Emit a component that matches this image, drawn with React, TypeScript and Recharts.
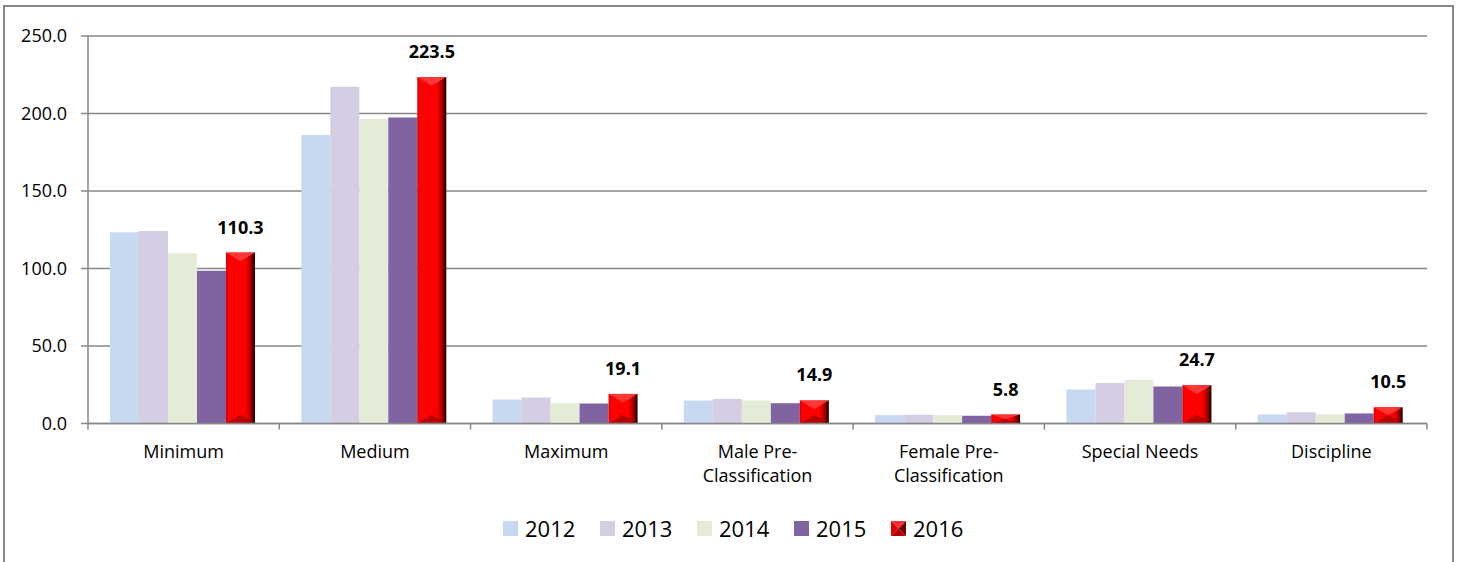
import React from 'react';
import { BarChart, Bar, XAxis, YAxis, CartesianGrid, Legend, LabelList } from 'recharts';

const categories = [
  'Minimum',
  'Medium',
  'Maximum',
  'Male Pre-Classification',
  'Female Pre-Classification',
  'Special Needs',
  'Discipline',
];
const years = ['2012', '2013', '2014', '2015', '2016'];
const v2012 = [123.4, 186.1, 15.5, 14.8, 5.4, 21.9, 5.8];
const v2013 = [124.2, 217.3, 16.8, 15.9, 5.6, 26.1, 7.3];
const v2014 = [109.8, 196.5, 13.1, 14.8, 5.4, 28.2, 6.0];
const v2015 = [98.6, 197.5, 12.9, 13.1, 5.0, 23.8, 6.5];
const v2016 = [110.3, 223.5, 19.1, 14.9, 5.8, 24.7, 10.5];
const yTicks = [0, 50, 100, 150, 200, 250];

const seriesValues = [v2012, v2013, v2014, v2015, v2016];
const colors = ['#c6d9f1', '#d5cde3', '#e4ecd7', '#8064a2', '#ff0000'];

const data = categories.map((c, i) => {
  const row: any = { category: c };
  years.forEach((y, k) => {
    row[y] = seriesValues[k][i];
  });
  return row;
});

const FONT = '"Open Sans", sans-serif';
const AXIS = '#878787';

const RedBar = (props: any) => {
  const { x, y, width: w, height: h, index } = props;
  if (!h || h <= 0) return null;
  const id = `redgrad${index}`;
  const d = Math.min(w * 0.3, h / 2);
  return (
    <g>
      <defs>
        <linearGradient id={id} x1="0" y1="0" x2="1" y2="0">
          <stop offset="0" stopColor="#d00000" />
          <stop offset="0.08" stopColor="#ff0000" />
          <stop offset="0.68" stopColor="#ff0000" />
          <stop offset="0.86" stopColor="#a00000" />
          <stop offset="1" stopColor="#1a0000" />
        </linearGradient>
      </defs>
      <rect x={x} y={y} width={w} height={h} fill={`url(#${id})`} />
      <polygon
        points={`${x},${y} ${x + w},${y} ${x + w / 2},${y + d}`}
        fill="#ff4040"
        opacity={0.85}
      />
      <polygon
        points={`${x},${y + h} ${x + w},${y + h} ${x + w / 2},${y + h - d}`}
        fill="#a00000"
        opacity={0.75}
      />
    </g>
  );
};

const CategoryTick = (props: any) => {
  const { x, y, payload, index, visibleTicksCount } = props;
  const half = payload && payload.offset ? payload.offset : 1339 / 14;
  const label: string = String(payload.value);
  const lines = label.replace(/(Pre-)\s*/, '$1\n').split('\n');
  return (
    <g>
      <line x1={x - half} y1={y} x2={x - half} y2={y + 6} stroke={AXIS} strokeWidth={1.5} />
      {index === (visibleTicksCount ?? categories.length) - 1 && (
        <line x1={x + half} y1={y} x2={x + half} y2={y + 6} stroke={AXIS} strokeWidth={1.5} />
      )}
      {lines.map((ln, i) => (
        <text
          key={i}
          x={x}
          y={y + 34 + i * 24}
          textAnchor="middle"
          fontFamily={FONT}
          fontSize={18}
          fill="#000"
        >
          {ln}
        </text>
      ))}
    </g>
  );
};

const LegendIcon = ({ k }: { k: number }) => {
  if (k === 4) {
    return (
      <svg width={15} height={15} style={{ display: 'block' }}>
        <polygon points="0,0 15,0 7.5,7.5" fill="#ff3030" />
        <polygon points="0,0 0,15 7.5,7.5" fill="#e00000" />
        <polygon points="15,0 15,15 7.5,7.5" fill="#700000" />
        <polygon points="0,15 15,15 7.5,7.5" fill="#b00000" />
      </svg>
    );
  }
  return <div style={{ width: 15, height: 15, background: colors[k] }} />;
};

const LegendContent = () => (
  <div style={{ display: 'flex', alignItems: 'center', fontFamily: FONT, fontSize: 22, lineHeight: '22px', color: '#000' }}>
    {years.map((y, k) => (
      <div key={y} style={{ display: 'flex', alignItems: 'center', width: 97 }}>
        <LegendIcon k={k} />
        <span style={{ marginLeft: 7 }}>{y}</span>
      </div>
    ))}
  </div>
);

export default function App() {
  return (
    <div style={{ position: 'absolute', left: 0, top: 0, width: 1463, height: 562, overflow: 'hidden', background: '#fff' }}>
      <div
        style={{
          position: 'absolute',
          left: 3,
          top: 5,
          width: 1451,
          height: 570,
          border: `2px solid ${AXIS}`,
          boxSizing: 'border-box',
        }}
      />
      <div style={{ position: 'absolute', left: 0, top: 0 }}>
        <BarChart
          width={1463}
          height={562}
          data={data}
          margin={{ top: 36, right: 36, left: 0, bottom: 0 }}
          barCategoryGap="11.5%"
          barGap={0}
        >
          <CartesianGrid vertical={false} stroke={AXIS} strokeWidth={1.5} />
          <XAxis
            dataKey="category"
            height={138.5}
            axisLine={{ stroke: AXIS, strokeWidth: 1.5 }}
            tickLine={false}
            tickSize={0}
            tickMargin={0}
            interval={0}
            tick={<CategoryTick />}
          />
          <YAxis
            width={88}
            domain={[0, 250]}
            ticks={yTicks}
            interval={0}
            tickFormatter={(v: number) => v.toFixed(1)}
            axisLine={{ stroke: AXIS, strokeWidth: 1.5 }}
            tickLine={{ stroke: AXIS, strokeWidth: 1.5 }}
            tickSize={7}
            tickMargin={14}
            tick={{ fill: '#000', fontSize: 18, fontFamily: FONT }}
          />
          <Legend
            layout="horizontal"
            verticalAlign="middle"
            align="center"
            content={<LegendContent />}
            wrapperStyle={{ top: 517, left: 503, width: 490 }}
          />
          {years.slice(0, 4).map((y, k) => (
            <Bar key={y} dataKey={y} fill={colors[k]} isAnimationActive={false} />
          ))}
          <Bar dataKey="2016" fill="#ff0000" shape={<RedBar />} isAnimationActive={false}>
            <LabelList
              dataKey="2016"
              position="top"
              offset={19}
              formatter={(v: any) => Number(v).toFixed(1)}
              style={{ fontFamily: FONT, fontSize: 18, fontWeight: 700, fill: '#000' }}
            />
          </Bar>
        </BarChart>
      </div>
    </div>
  );
}
